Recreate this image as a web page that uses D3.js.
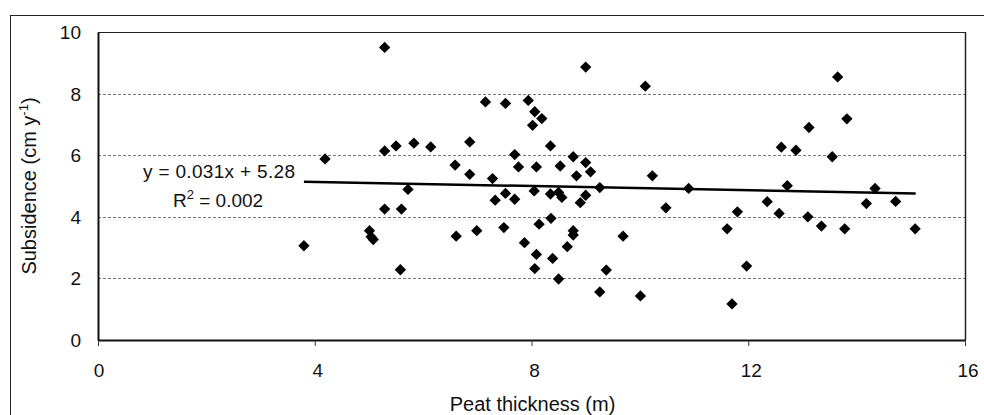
<!DOCTYPE html>
<html>
<head>
<meta charset="utf-8">
<script src="https://cdn.jsdelivr.net/npm/d3@7"></script>
<style>
  html, body { margin: 0; padding: 0; background: #fff; }
  svg { display: block; font-family: "Liberation Sans", Arial, sans-serif; }
</style>
</head>
<body>
<svg id="chart" width="984" height="415"></svg>
<script>
// ---- data ----
const peatThickness = [3.80,4.19,5.29,5.29,5.50,5.83,6.14,5.72,5.29,5.60,5.01,5.04,5.08,5.58,6.59,6.86,6.86,6.61,6.99,7.15,7.52,7.94,8.06,8.19,8.02,7.28,7.33,7.52,7.69,7.69,7.76,7.49,7.87,8.09,8.05,8.14,8.09,8.06,8.35,8.35,8.50,8.53,8.56,8.36,8.39,8.50,8.66,8.77,8.83,8.77,8.77,8.90,9.00,9.00,9.09,9.00,9.26,9.26,9.38,9.69,10.01,10.10,10.23,10.48,10.90,11.61,11.70,11.80,11.97,12.35,12.57,12.61,12.72,12.88,13.12,13.10,13.35,13.55,13.65,13.78,13.82,14.18,14.34,14.72,15.08];
const subsidence = [3.06,5.88,9.50,6.14,6.30,6.39,6.27,4.89,4.25,4.25,3.55,3.35,3.26,2.28,5.68,6.43,5.38,3.37,3.55,7.73,7.68,7.78,7.41,7.19,6.97,5.24,4.54,4.76,4.57,6.02,5.62,3.65,3.16,5.62,4.84,3.76,2.78,2.32,6.30,4.74,4.79,5.65,4.63,3.95,2.65,1.98,3.03,5.95,5.33,3.55,3.41,4.46,4.70,5.76,5.46,8.86,4.95,1.56,2.27,3.37,1.43,8.24,5.33,4.29,4.92,3.61,1.17,4.16,2.40,4.49,4.11,6.26,5.01,6.16,6.90,4.00,3.70,5.95,8.54,3.61,7.18,4.43,4.92,4.50,3.61];
const trendX = [3.80, 15.09];
const trendY = [5.14, 4.76];
const xTicks = [0, 4, 8, 12, 16];
const yTicks = [0, 2, 4, 6, 8, 10];
const gridTicks = [2, 4, 6, 8];
const equationText = "y = 0.031x + 5.28";
const xTitle = "Peat thickness (m)";

// ---- layout ----
const svg = d3.select("#chart");
const L = 98, R = 965, T = 32, B = 340;
const x = d3.scaleLinear().domain([0, 16]).range([L, R]);
const y = d3.scaleLinear().domain([0, 10]).range([B, T]);

// outer chart frame
svg.append("rect").attr("x", 10.5).attr("y", 15.5).attr("width", 1000).attr("height", 1000)
  .attr("fill", "none").attr("stroke", "#222").attr("stroke-width", 1);

// gridlines
svg.append("g").selectAll("line").data(gridTicks).join("line")
  .attr("x1", L).attr("x2", R)
  .attr("y1", d => Math.round(y(d)) + 0.5).attr("y2", d => Math.round(y(d)) + 0.5)
  .attr("stroke", "#777").attr("stroke-width", 1).attr("stroke-dasharray", "3,2");

// plot frame top & right
svg.append("line").attr("x1", L).attr("x2", R).attr("y1", T + 0.5).attr("y2", T + 0.5)
  .attr("stroke", "#222").attr("stroke-width", 1.2);
svg.append("line").attr("x1", R + 0.5).attr("x2", R + 0.5).attr("y1", T).attr("y2", B)
  .attr("stroke", "#222").attr("stroke-width", 1.5);

// x axis
const xAxis = d3.axisBottom(x).tickValues(xTicks).tickSize(6).tickSizeOuter(0).tickFormat("");
const gx = svg.append("g").attr("transform", `translate(0,${B})`).call(xAxis);
gx.select(".domain").attr("stroke", "#111").attr("stroke-width", 2);
gx.selectAll(".tick line").attr("stroke", "#333").attr("stroke-width", 1);
svg.append("g").selectAll("text").data(xTicks).join("text")
  .attr("x", d => x(d) + (d === 0 ? 1 : 3)).attr("y", 377)
  .attr("text-anchor", "middle").attr("font-size", 19).attr("fill", "#111")
  .text(d => d);

// y axis
const yAxis = d3.axisLeft(y).tickValues(yTicks).tickSize(0).tickSizeOuter(0).tickFormat("");
const gy = svg.append("g").attr("transform", `translate(${L},0)`).call(yAxis);
gy.select(".domain").attr("stroke", "#111").attr("stroke-width", 2);
svg.append("g").selectAll("text").data(yTicks).join("text")
  .attr("x", 81).attr("y", d => y(d) + 7)
  .attr("text-anchor", "end").attr("font-size", 19).attr("fill", "#111")
  .text(d => d);

// axis titles
svg.append("text").attr("x", (L + R) / 2 + 1).attr("y", 411)
  .attr("text-anchor", "middle").attr("font-size", 20).attr("fill", "#111")
  .text(xTitle);
const yt = svg.append("text").attr("transform", `translate(36,${(T + B) / 2}) rotate(-90)`)
  .attr("text-anchor", "middle").attr("font-size", 20).attr("fill", "#111");
yt.append("tspan").text("Subsidence (cm y");
yt.append("tspan").attr("font-size", 13).attr("dy", -8).text("-1");
yt.append("tspan").attr("dy", 8).text(")");

// trend line
svg.append("line")
  .attr("x1", x(trendX[0])).attr("y1", y(trendY[0]))
  .attr("x2", x(trendX[1])).attr("y2", y(trendY[1]))
  .attr("stroke", "#000").attr("stroke-width", 2.5);

// points (diamonds)
const sym = d3.symbol().type(d3.symbolSquare).size(64);
svg.append("g").selectAll("path").data(peatThickness.map((v, i) => [v, subsidence[i]])).join("path")
  .attr("d", sym)
  .attr("transform", d => `translate(${x(d[0])},${y(d[1])}) rotate(45)`)
  .attr("fill", "#000");

// equation annotation
svg.append("text").attr("x", 143).attr("y", 178)
  .attr("font-size", 19).attr("fill", "#111")
  .attr("textLength", 152).attr("lengthAdjust", "spacing")
  .text(equationText);
const r2 = svg.append("text").attr("x", 173).attr("y", 207)
  .attr("font-size", 19).attr("fill", "#111");
r2.append("tspan").text("R");
r2.append("tspan").attr("font-size", 13).attr("dy", -8).text("2");
r2.append("tspan").attr("dy", 8).text(" = 0.002");
</script>
</body>
</html>
